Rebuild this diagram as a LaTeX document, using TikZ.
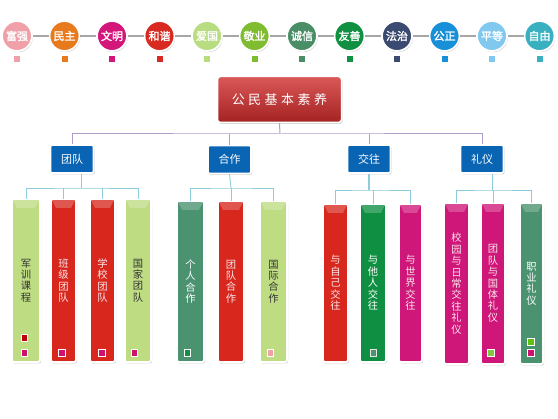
\documentclass[tikz,border=0pt]{standalone}
\usepackage{fontspec}
\setmainfont{Noto Sans CJK SC}
\newfontfamily\boldcjk[FakeBold=2]{Noto Sans CJK SC}
\usetikzlibrary{shadows}
\definecolor{cA}{HTML}{F0A0A8}
\definecolor{cB}{HTML}{E87A1E}
\definecolor{cC}{HTML}{D4157A}
\definecolor{cD}{HTML}{D82A20}
\definecolor{cE}{HTML}{B8DC80}
\definecolor{cF}{HTML}{80BC30}
\definecolor{cG}{HTML}{4A8E68}
\definecolor{cH}{HTML}{109040}
\definecolor{cI}{HTML}{3A4A70}
\definecolor{cJ}{HTML}{1890D8}
\definecolor{cK}{HTML}{80C8F0}
\definecolor{cL}{HTML}{38B0C0}
\definecolor{barLG}{HTML}{BEDC82}
\definecolor{barR}{HTML}{D8281E}
\definecolor{barDG}{HTML}{4A9270}
\definecolor{barG}{HTML}{0E8F42}
\definecolor{barM}{HTML}{CF1679}
\definecolor{boxB}{HTML}{0A64B4}
\definecolor{plc}{HTML}{B09CC8}
\definecolor{blc}{HTML}{8CCCDC}
\definecolor{txtD}{HTML}{333333}
\definecolor{txtW}{HTML}{FBE6EC}
\definecolor{sqR}{HTML}{C00010}
\definecolor{sqM}{HTML}{D01070}
\definecolor{sqLG}{HTML}{80C840}
\definecolor{sqLG2}{HTML}{60C010}
\definecolor{rootT}{HTML}{DA5858}
\definecolor{rootB}{HTML}{A42222}
\tikzset{
  topc/.style={circle, draw=white, line width=1.8pt, minimum size=30pt, inner sep=0pt,
    text=white, font=\boldcjk\fontsize{11}{11}\selectfont,
    drop shadow={opacity=.4, shadow xshift=.8pt, shadow yshift=-1.2pt}},
  topsq/.style={rectangle, minimum size=6pt, inner sep=0pt},
  topline/.style={draw=gray!70, line width=1.5pt},
  mainbox/.style={rectangle, rounded corners=3pt, draw=white, line width=1.5pt,
    top color=rootT, bottom color=rootB,
    minimum width=124pt, minimum height=46pt, text=white,
    font=\fontsize{13}{13}\selectfont,
    drop shadow={opacity=.35, shadow xshift=1pt, shadow yshift=-1.5pt}},
  l2box/.style={rectangle, rounded corners=2pt, draw=white, line width=1.6pt,
    fill=boxB, minimum width=43pt, minimum height=28pt, text=white,
    font=\fontsize{11}{11}\selectfont,
    drop shadow={opacity=.35, shadow xshift=1pt, shadow yshift=-1.5pt}},
  barbox/.style={rectangle, rounded corners=2pt, draw=white, line width=1.8pt,
    inner sep=0pt, outer sep=0pt, align=center,
    font=\fontsize{10.3}{11.4}\selectfont,
    drop shadow={opacity=.35, shadow xshift=1pt, shadow yshift=-1.5pt}},
  insq/.style={rectangle, draw=white, line width=.9pt, minimum size=6.5pt, inner sep=0pt},
  pline/.style={draw=plc, line width=1pt},
  bline/.style={draw=blc, line width=.9pt},
}
\begin{document}
\begin{tikzpicture}[x=1pt,y=-1pt]
\useasboundingbox[fill=white] (0,0) rectangle (558,419);

% top row of values
\foreach \i/\x/\c/\t in {1/17/cA/富强,2/64.5/cB/民主,3/112/cC/文明,4/159.5/cD/和谐,
  5/207/cE/爱国,6/254.5/cF/敬业,7/302/cG/诚信,8/349.5/cH/友善,9/397/cI/法治,
  10/444.5/cJ/公正,11/492/cK/平等,12/539.5/cL/自由}{
  \node[topc, fill=\c] (t\i) at (\x,36) {\t};
  \node[topsq, fill=\c] (s\i) at (\x,59) {};
}
\foreach \i [evaluate=\i as \j using int(\i+1)] in {1,...,11}
  \draw[topline] (t\i) -- (t\j);

% root
\node[mainbox] (root) at (279.5,99.5) {公\hspace{3.5pt}民\hspace{3.5pt}基\hspace{3.5pt}本\hspace{3.5pt}素\hspace{3.5pt}养};

% level 2
\node[l2box] (g1) at (72,159) {团队};
\node[l2box] (g2) at (229.5,159.5) {合作};
\node[l2box] (g3) at (369,159) {交往};
\node[l2box] (g4) at (482,159) {礼仪};

\coordinate (hub) at (280,134);
\draw[pline] (root.south) -- (hub);
\draw[pline] (g1.north) |- (hub) -| (g4.north);
\draw[pline] (g2.north) -- (g2.north |- hub);
\draw[pline] (g3.north) -- (g3.north |- hub);

% bars: team
\node[barbox, fill=barLG, text=txtD, minimum width=28pt, minimum height=163pt] (a1) at (26,280.5) {军\\训\\课\\程};
\node[barbox, fill=barR, text=txtW, minimum width=25pt, minimum height=163pt] (a2) at (63.5,280.5) {班\\级\\团\\队};
\node[barbox, fill=barR, text=txtW, minimum width=25pt, minimum height=163pt] (a3) at (102.5,280.5) {学\\校\\团\\队};
\node[barbox, fill=barLG, text=txtD, minimum width=26pt, minimum height=163pt] (a4) at (138,280.5) {国\\家\\团\\队};
% bars: cooperation
\node[barbox, fill=barDG, text=white, minimum width=27pt, minimum height=161pt] (b1) at (190.5,281.5) {个\\人\\合\\作};
\node[barbox, fill=barR, text=txtW, minimum width=26pt, minimum height=161pt] (b2) at (231,281.5) {团\\队\\合\\作};
\node[barbox, fill=barLG, text=txtD, minimum width=27pt, minimum height=161pt] (b3) at (273.5,281.5) {国\\际\\合\\作};
% bars: communication
\node[barbox, fill=barR, text=txtW, minimum width=25pt, minimum height=158pt] (c1) at (335.5,283) {与\\自\\己\\交\\往};
\node[barbox, fill=barG, text=white, minimum width=26pt, minimum height=158pt] (c2) at (373,283) {与\\他\\人\\交\\往};
\node[barbox, fill=barM, text=txtW, minimum width=23pt, minimum height=158pt] (c3) at (410.5,283) {与\\世\\界\\交\\往};
% bars: etiquette
\node[barbox, fill=barM, text=txtW, minimum width=25pt, minimum height=161pt] (d1) at (456.5,283.5) {校\\园\\与\\日\\常\\交\\往\\礼\\仪};
\node[barbox, fill=barM, text=txtW, minimum width=24pt, minimum height=161pt] (d2) at (493,283.5) {团\\队\\与\\国\\体\\礼\\仪};
\node[barbox, fill=barDG, text=white, minimum width=23pt, minimum height=161pt] (d3) at (531.5,283.5) {职\\业\\礼\\仪};

% bevels on bar tops
\foreach \n in {a1,a2,a3,a4,b1,b2,b3,c1,c2,c3,d1,d2,d3}
  \fill[white, opacity=.22] ([xshift=1pt,yshift=-1pt]\n.north west) -- ([xshift=-1pt,yshift=-1pt]\n.north east)
    -- ([xshift=-5pt,yshift=-9pt]\n.north east) -- ([xshift=5pt,yshift=-9pt]\n.north west) -- cycle;

% connectors level 3
\coordinate (j1) at (81,188);
\draw[bline] (j1 |- g1.south) -- (j1);
\draw[bline] (a1.north) |- (j1) -| (a4.north);
\draw[bline] (a2.north) -- (a2.north |- j1);
\draw[bline] (a3.north) -- (a3.north |- j1);

\coordinate (j2) at (231,188);
\draw[bline] (g2.south) -- (j2);
\draw[bline] (b1.north) |- (j2) -| (b3.north);
\draw[bline] (b2.north) -- (b2.north |- j2);

\coordinate (j3) at (369,190);
\draw[bline, line width=1.6pt] (g3.south) -- (j3);
\draw[bline] (c1.north) |- (j3) -| (c3.north);
\draw[bline] (c2.north) -- (c2.north |- j3);

\coordinate (j4) at (492,190);
\draw[bline] (j4 |- g4.south) -- (j4);
\draw[bline] (d1.north) |- (j4) -| (d3.north);
\draw[bline] (d2.north) -- (d2.north |- j4);

% small squares in bars
\node[insq, fill=sqR] (qa1a) at (24.5,338) {};
\node[insq, fill=sqM] (qa1b) at (24.5,353) {};
\node[insq, fill=sqM] (qa2) at (62,353) {};
\node[insq, fill=sqM] (qa3) at (102,353) {};
\node[insq, fill=sqM] (qa4) at (134.5,353) {};
\node[insq, fill=cH] (qb1) at (187.5,353) {};
\node[insq, fill=cA] (qb3) at (270.5,353) {};
\node[insq, fill=barDG, draw=white!80!gray] (qc2) at (373.5,353) {};
\node[insq, fill=sqLG] (qd2) at (491,353) {};
\node[insq, fill=sqLG2] (qd3a) at (531,342) {};
\node[insq, fill=sqM] (qd3b) at (531,353) {};
\end{tikzpicture}
\end{document}
